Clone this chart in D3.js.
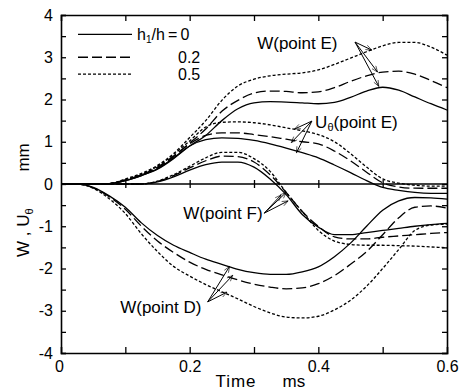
<!DOCTYPE html>
<html><head><meta charset="utf-8">
<script src="https://cdn.jsdelivr.net/npm/d3@7"></script>
<style>body{margin:0;background:#fff}</style>
</head><body>
<svg id="c" width="466" height="392"></svg>
<script>
// ---- data (time in ms, displacement in mm) ----
const time = [0,0.025,0.05,0.075,0.1,0.125,0.15,0.175,0.2,0.225,0.25,0.275,0.3,0.325,0.35,0.375,0.4,0.425,0.45,0.475,0.5,0.525,0.55,0.575,0.6];
const ratios = ["0","0.2","0.5"];
// W (point E)
const wE_0 = [0,0,0,0.01,0.08,0.2,0.35,0.6,0.9,1.15,1.5,1.78,1.92,1.95,1.94,1.92,1.9,1.93,2.05,2.2,2.29,2.22,2.06,1.9,1.75];
const wE_2 = [0,0,0,0.01,0.1,0.22,0.4,0.66,0.97,1.3,1.72,1.98,2.15,2.2,2.19,2.16,2.18,2.28,2.43,2.56,2.65,2.67,2.6,2.45,2.28];
const wE_5 = [0,0,0,0.01,0.12,0.25,0.44,0.72,1.1,1.5,1.98,2.32,2.48,2.56,2.6,2.63,2.7,2.83,2.98,3.13,3.27,3.35,3.35,3.24,3.05];
// U theta (point E)
const uE_0 = [0,0,0,0.01,0.08,0.2,0.36,0.62,0.9,1.05,1.09,1.08,1.03,0.95,0.85,0.74,0.62,0.45,0.27,0.08,-0.08,-0.15,-0.2,-0.22,-0.22];
const uE_2 = [0,0,0,0.01,0.09,0.21,0.38,0.65,0.95,1.15,1.21,1.21,1.17,1.12,1.06,1.0,0.95,0.78,0.55,0.28,0.03,-0.07,-0.1,-0.1,-0.1];
const uE_5 = [0,0,0,0.01,0.1,0.23,0.42,0.7,1.02,1.35,1.46,1.47,1.45,1.4,1.33,1.26,1.17,1.0,0.72,0.4,0.12,0.02,-0.03,-0.05,-0.05];
// W (point F)
const wF_0 = [0,0,0,0,0,0,0.05,0.17,0.33,0.46,0.52,0.52,0.4,0.12,-0.25,-0.72,-1.02,-1.2,-1.2,-1.15,-1.1,-1.05,-1.0,-0.96,-0.93];
const wF_2 = [0,0,0,0,0,0,0.06,0.2,0.38,0.55,0.66,0.65,0.52,0.22,-0.2,-0.65,-1.0,-1.25,-1.3,-1.3,-1.26,-1.23,-1.2,-1.17,-1.15];
const wF_5 = [0,0,0,0,0,0,0.07,0.22,0.42,0.62,0.75,0.75,0.6,0.3,-0.2,-0.65,-1.1,-1.35,-1.43,-1.45,-1.45,-1.46,-1.47,-1.49,-1.51];
// W (point D)
const wD_0 = [0,0,-0.08,-0.28,-0.55,-0.92,-1.22,-1.45,-1.62,-1.78,-1.9,-2.02,-2.1,-2.14,-2.14,-2.08,-1.96,-1.72,-1.4,-1.0,-0.62,-0.4,-0.32,-0.33,-0.36];
const wD_2 = [0,0,-0.09,-0.3,-0.6,-1.0,-1.35,-1.62,-1.85,-2.02,-2.15,-2.27,-2.37,-2.44,-2.48,-2.46,-2.36,-2.17,-1.9,-1.6,-1.2,-0.8,-0.55,-0.52,-0.57];
const wD_5 = [0,0,-0.1,-0.35,-0.7,-1.18,-1.6,-1.95,-2.18,-2.38,-2.55,-2.72,-2.9,-3.05,-3.15,-3.17,-3.13,-2.98,-2.75,-2.42,-2.0,-1.55,-1.1,-0.97,-0.95];

const xTickLabels = [0,0.2,0.4,0.6];
const yTickLabels = [-4,-3,-2,-1,0,1,2,3,4];

// ---- layout ----
const svg = d3.select("#c");
const x = d3.scaleLinear().domain([0,0.6]).range([61,447]);
const y = d3.scaleLinear().domain([-4,4]).range([353,15]);
const FONT = "'Liberation Sans', Arial, sans-serif";
const dashes = {"0":null, "0.2":"10,4", "0.5":"3,2"};

const series = [
  [wE_0,"0"],[wE_2,"0.2"],[wE_5,"0.5"],
  [uE_0,"0"],[uE_2,"0.2"],[uE_5,"0.5"],
  [wF_0,"0"],[wF_2,"0.2"],[wF_5,"0.5"],
  [wD_0,"0"],[wD_2,"0.2"],[wD_5,"0.5"]
];

const line = d3.line().x(d=>x(d[0])).y(d=>y(d[1])).curve(d3.curveMonotoneX);

// zero line
svg.append("line").attr("x1",x(0)).attr("x2",x(0.6)).attr("y1",y(0)).attr("y2",y(0))
  .attr("stroke","#000").attr("stroke-width",1.6);

// curves
svg.append("g").selectAll("path").data(series).join("path")
  .attr("d",s=>line(time.map((t,i)=>[t,s[0][i]])))
  .attr("fill","none").attr("stroke","#000").attr("stroke-width",1.3)
  .attr("stroke-dasharray",s=>dashes[s[1]]);

// axes
const halves = d3.range(-4,4.01,0.5);
const tenths = [0.1,0.2,0.3,0.4,0.5];
const fmt = d=>d<0?"-"+(-d):String(d);

const gl = svg.append("g").attr("transform",`translate(${x(0)},0)`)
  .call(d3.axisLeft(y).tickValues(halves).tickSize(-5).tickPadding(8)
    .tickFormat(d=>yTickLabels.includes(d)?fmt(d):""));
const gr = svg.append("g").attr("transform",`translate(${x(0.6)},0)`)
  .call(d3.axisRight(y).tickValues(halves).tickSize(-5).tickFormat(""));
const gt = svg.append("g").attr("transform",`translate(0,${y(4)})`)
  .call(d3.axisTop(x).tickValues(tenths).tickSize(-6).tickFormat(""));
const gb = svg.append("g").attr("transform",`translate(0,${y(-4)})`)
  .call(d3.axisBottom(x).tickValues(tenths).tickSize(-6).tickFormat(""));
const gbl = svg.append("g").attr("transform",`translate(0,${y(-4)})`)
  .call(d3.axisBottom(x).tickValues(xTickLabels).tickSize(0).tickPadding(8).tickFormat(fmt));
const gz1 = svg.append("g").attr("transform",`translate(0,${y(0)})`)
  .call(d3.axisBottom(x).tickValues(tenths).tickSize(4).tickFormat(""));
const gz2 = svg.append("g").attr("transform",`translate(0,${y(0)})`)
  .call(d3.axisTop(x).tickValues(tenths).tickSize(4).tickFormat(""));
[gl,gr,gt,gb,gbl,gz1,gz2].forEach(g=>{
  g.select(".domain").attr("stroke","#000").attr("stroke-width",1.6);
  g.selectAll(".tick line").attr("stroke","#000").attr("stroke-width",1.3);
  g.selectAll("text").attr("font-family",FONT).attr("font-size",16).attr("fill","#000");
});
gbl.select(".domain").remove();
gbl.selectAll(".tick text").filter(d=>d===0).attr("dx",-2);
gz1.select(".domain").remove(); gz2.select(".domain").remove();

// axis titles
const yl = svg.append("text").attr("transform",`translate(29,${y(-1.15)}) rotate(-90)`)
  .attr("text-anchor","middle").attr("font-family",FONT).attr("font-size",17);
yl.append("tspan").text("W , U");
yl.append("tspan").attr("font-size",11).attr("dy",4).text("θ");
svg.append("text").attr("transform",`translate(29,${y(0.63)}) rotate(-90)`)
  .attr("text-anchor","middle").attr("font-family",FONT).attr("font-size",17).text("mm");
svg.append("text").attr("x",x(0.272)).attr("y",387).attr("text-anchor","middle")
  .attr("font-family",FONT).attr("font-size",17).attr("letter-spacing",1).text("Time");
svg.append("text").attr("x",x(0.362)).attr("y",387).attr("text-anchor","middle")
  .attr("font-family",FONT).attr("font-size",17).text("ms");

// legend
const legY = [3.54,3.0,2.6];
ratios.forEach((r,i)=>{
  svg.append("line").attr("x1",78).attr("x2",132).attr("y1",y(legY[i])).attr("y2",y(legY[i]))
    .attr("stroke","#000").attr("stroke-width",1.3).attr("stroke-dasharray",dashes[r]);
});
const lt = svg.append("text").attr("x",137).attr("y",y(legY[0])+6)
  .attr("font-family",FONT).attr("font-size",16);
lt.append("tspan").text("h");
lt.append("tspan").attr("font-size",10).attr("dy",3).text("1");
lt.append("tspan").attr("dy",-3).text("/h\u2009=\u20090");
ratios.slice(1).forEach((r,i)=>{
  svg.append("text").attr("x",178).attr("y",y(legY[i+1])+6)
    .attr("font-family",FONT).attr("font-size",16).text(r);
});

// annotations
svg.append("defs").append("marker").attr("id","arr").attr("viewBox","0 0 10 10")
  .attr("refX",10).attr("refY",5).attr("markerWidth",9).attr("markerHeight",6)
  .attr("markerUnits","userSpaceOnUse").attr("orient","auto")
  .append("path").attr("d","M0,1 L10,5 L0,9").attr("fill","none").attr("stroke","#000").attr("stroke-width",1);

const notes = [
  {text:"W(point E)", tx:0.305, ty:3.2, from:[0.457,3.36], to:[[0.483,3.17],[0.492,2.65],[0.494,2.31]]},
  {text:"Uθ(point E)", tx:0.395, ty:1.33, from:[0.39,1.49], to:[[0.363,1.3],[0.358,0.98],[0.366,0.74]]},
  {text:"W(point F)", tx:0.19, ty:-0.83, from:[0.316,-0.69], to:[[0.342,-0.26],[0.35,-0.2],[0.353,-0.4]]},
  {text:"W(point D)", tx:0.092, ty:-3.05, from:[0.228,-2.79], to:[[0.262,-1.95],[0.267,-2.16],[0.258,-2.56]]}
];
notes.forEach(n=>{
  const t = svg.append("text").attr("x",x(n.tx)).attr("y",y(n.ty))
    .attr("font-family",FONT).attr("font-size",17);
  if(n.text.startsWith("Uθ")){
    t.append("tspan").text("U");
    t.append("tspan").attr("font-size",11).attr("dy",3).text("θ");
    t.append("tspan").attr("dy",-3).text("(point E)");
  } else t.text(n.text);
  n.to.forEach(p=>{
    svg.append("line").attr("x1",x(n.from[0])).attr("y1",y(n.from[1]))
      .attr("x2",x(p[0])).attr("y2",y(p[1]))
      .attr("stroke","#000").attr("stroke-width",1).attr("marker-end","url(#arr)");
  });
});
</script>
</body></html>
